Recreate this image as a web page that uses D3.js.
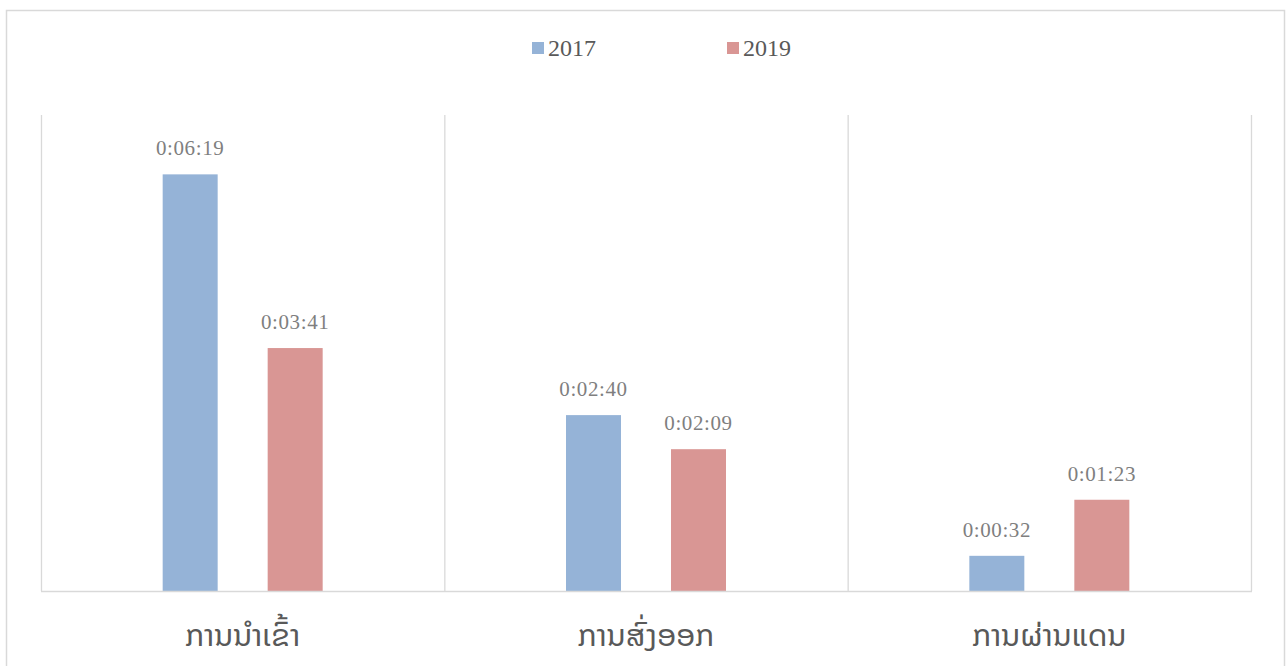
<!DOCTYPE html>
<html><head><meta charset="utf-8">
<script src="https://cdn.jsdelivr.net/npm/d3@7"></script>
<style>html,body{margin:0;padding:0;background:#fff;}</style>
</head><body>
<svg id="c" width="1286" height="666"></svg>
<script>
const categories = ["ການນຳເຂົ້າ", "ການສົ່ງອອກ", "ການຜ່ານແດນ"];
const seriesNames = ["2017", "2019"];
const values2017 = [379, 160, 32];   // seconds
const values2019 = [221, 129, 83];
const labels2017 = ["0:06:19", "0:02:40", "0:00:32"];
const labels2019 = ["0:03:41", "0:02:09", "0:01:23"];
const colors = ["#95b3d7", "#d99694"];
const yMax = 433;

const svg = d3.select("#c");
const m = {left: 41, right: 1251, top: 115, bottom: 591};

svg.append("rect").attr("x", 6.5).attr("y", 10.5).attr("width", 1278).attr("height", 670)
  .attr("fill", "none").attr("stroke", "#d9d9d9").attr("stroke-width", 1.5);

const x = d3.scaleBand().domain(categories).range([m.left, m.right]).paddingInner(0).paddingOuter(0);
const y = d3.scaleLinear().domain([0, yMax]).range([m.bottom, m.top]);

const bounds = categories.map(c => x(c)).concat([m.right]);
svg.append("g").selectAll("line").data(bounds).join("line")
  .attr("x1", d => d + 0.5).attr("x2", d => d + 0.5)
  .attr("y1", m.top).attr("y2", m.bottom)
  .attr("stroke", "#d9d9d9").attr("stroke-width", 1.3);

const data = categories.map((c, i) => ({c, v: [values2017[i], values2019[i]], l: [labels2017[i], labels2019[i]]}));
const barW = 55, gap = 50;
const g = svg.append("g");
data.forEach(d => {
  const cx = x(d.c) + x.bandwidth() / 2;
  [0, 1].forEach(s => {
    const bx = s === 0 ? cx - gap / 2 - barW : cx + gap / 2;
    g.append("rect").attr("x", bx).attr("y", y(d.v[s])).attr("width", barW)
      .attr("height", y(0) - y(d.v[s])).attr("fill", colors[s]);
    g.append("text").attr("x", bx + barW / 2).attr("y", y(d.v[s]) - 19)
      .attr("text-anchor", "middle").attr("font-family", "Liberation Serif, serif")
      .attr("font-size", 21).attr("letter-spacing", 0.6).attr("fill", "#7f7f7f").text(d.l[s]);
  });
});

svg.append("line").attr("x1", m.left).attr("x2", m.right + 1).attr("y1", m.bottom + 0.5).attr("y2", m.bottom + 0.5)
  .attr("stroke", "#d9d9d9").attr("stroke-width", 1.5);

const ax = svg.append("g").attr("transform", `translate(0,${m.bottom})`)
  .call(d3.axisBottom(x).tickSize(0).tickPadding(0));
ax.select(".domain").remove();
ax.selectAll("text").attr("dy", 0).attr("y", 55)
  .attr("font-family", "'Noto Sans Lao', 'Phetsarath OT', 'DejaVu Sans', sans-serif")
  .attr("font-size", 31).attr("fill", "#595959");

const leg = svg.append("g");
const legX = [532, 727];
seriesNames.forEach((n, i) => {
  leg.append("rect").attr("x", legX[i]).attr("y", 42).attr("width", 12).attr("height", 12).attr("fill", colors[i]);
  leg.append("text").attr("x", legX[i] + 16).attr("y", 56).attr("font-family", "Liberation Serif, serif")
    .attr("font-size", 24).attr("fill", "#595959").text(n);
});
</script>
</body></html>
